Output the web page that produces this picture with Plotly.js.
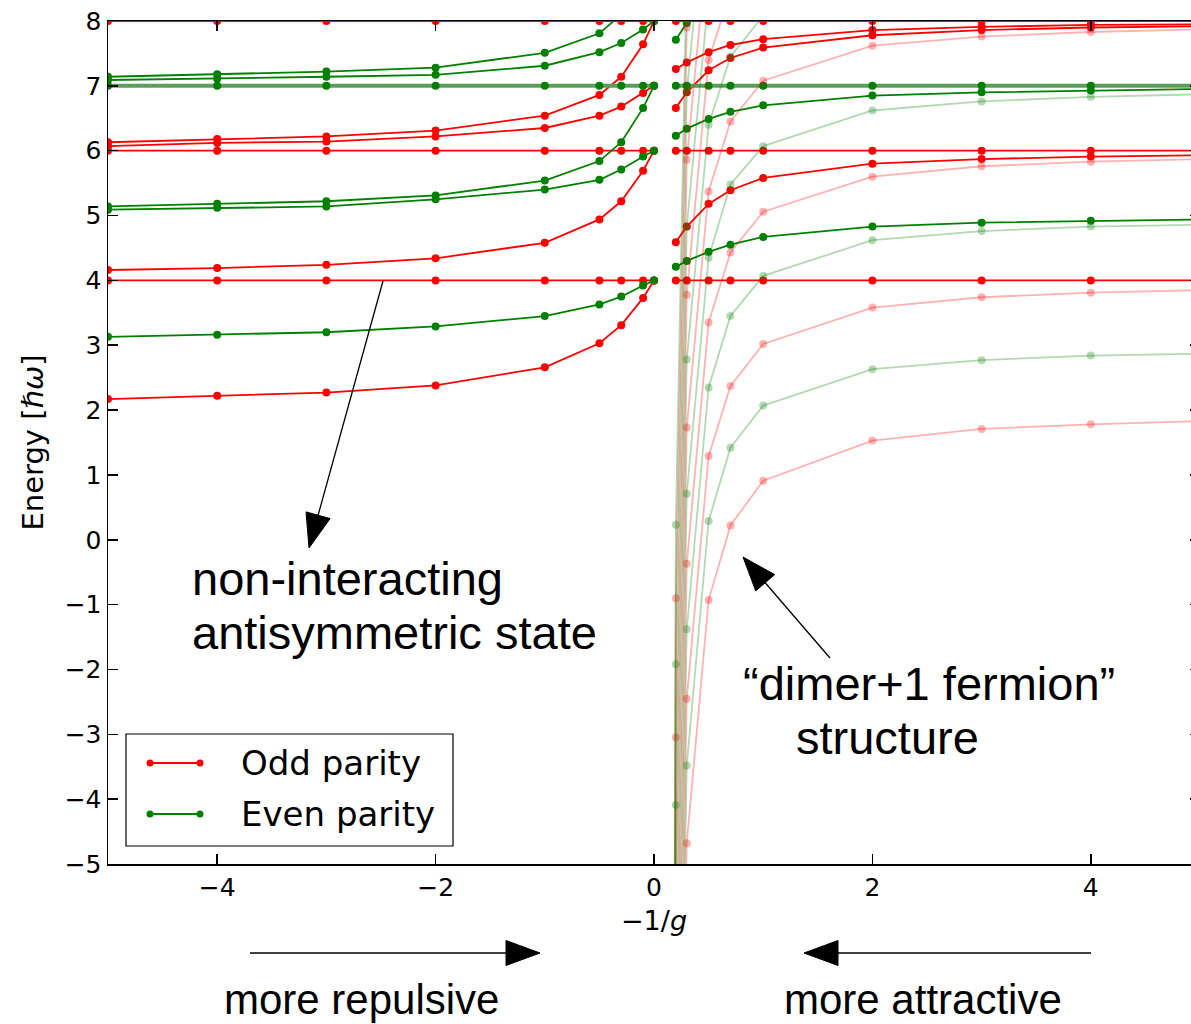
<!DOCTYPE html>
<html>
<head>
<meta charset="utf-8">
<script src="https://cdn.plot.ly/plotly-3.0.1.min.js"></script>
<style>
  html, body { margin: 0; padding: 0; overflow: hidden; background: #fff; }
  #chart { width: 1210px; height: 1024px; }
</style>
</head>
<body>
<div id="chart"></div>
<script>
// Sample points of -1/g on the repulsive (left) and attractive (right) side
const xRepulsive = [-5, -4, -3, -2, -1, -0.5, -0.3, -0.1, 0];
const xAttractive = [0.2, 0.3, 0.5, 0.7, 1, 2, 3, 4, 5];
const xDimer = [0.1, 0.2, 0.3, 0.5, 0.7, 1, 2, 3, 4, 5];

// Odd-parity levels, repulsive side
const oddRep1 = [2.17, 2.22, 2.27, 2.38, 2.66, 3.03, 3.31, 3.73, 4.0];
const oddRep2 = [4, 4, 4, 4, 4, 4, 4, 4, 4];
const oddRep3 = [4.16, 4.19, 4.24, 4.34, 4.58, 4.94, 5.22, 5.69, 6.0];
const oddRep4 = [6, 6, 6, 6, 6, 6, 6, 6, 6];
const oddRep5 = [6.07, 6.12, 6.14, 6.22, 6.35, 6.54, 6.68, 6.89, 7.0];
const oddRep6 = [6.13, 6.18, 6.22, 6.31, 6.54, 6.86, 7.14, 7.64, 8.0];
const oddRep7 = [8, 8, 8, 8, 8, 8, 8, 8, 8];

// Even-parity levels, repulsive side
const evenRep1 = [3.13, 3.16, 3.20, 3.29, 3.45, 3.63, 3.75, 3.92, 4.0];
const evenRep2 = [5.09, 5.12, 5.14, 5.25, 5.40, 5.55, 5.71, 5.91, 6.0];
const evenRep3 = [5.14, 5.18, 5.22, 5.31, 5.54, 5.84, 6.13, 6.66, 7.0];
const evenRep4 = [7, 7, 7, 7, 7, 7, 7, 7, 7];
const evenRep5 = [7.09, 7.11, 7.14, 7.17, 7.31, 7.52, 7.66, 7.87, 8.0];
const evenRep6 = [7.14, 7.18, 7.22, 7.28, 7.51, 7.81, 8.10, 8.60, 9.0];

// Odd-parity levels, attractive side
const oddAtt1 = [4, 4, 4, 4, 4, 4, 4, 4, 4];
const oddAtt2 = [4.59, 4.83, 5.18, 5.39, 5.58, 5.80, 5.87, 5.91, 5.93];
const oddAtt3 = [6, 6, 6, 6, 6, 6, 6, 6, 6];
const oddAtt4 = [6.66, 6.90, 7.24, 7.43, 7.59, 7.78, 7.86, 7.90, 7.92];
const oddAtt5 = [7.26, 7.36, 7.52, 7.63, 7.72, 7.86, 7.91, 7.94, 7.95];
const oddAtt6 = [8, 8, 8, 8, 8, 8, 8, 8, 8];

// Even-parity levels, attractive side
const evenAtt1 = [4.21, 4.30, 4.44, 4.55, 4.67, 4.83, 4.89, 4.92, 4.94];
const evenAtt2 = [6.23, 6.34, 6.49, 6.60, 6.70, 6.85, 6.90, 6.93, 6.95];
const evenAtt3 = [7, 7, 7, 7, 7, 7, 7, 7, 7];
const evenAtt4 = [7.71, 7.97, 8.30, 8.50, 8.65, 8.80, 8.87, 8.90, 8.92];

// "dimer + 1 fermion" branch (odd parity)
const oddDimer1 = [-61.6, -13.6, -4.68, -0.93, 0.22, 0.91, 1.53, 1.71, 1.78, 1.83];
const oddDimer2 = [-59.4, -11.4, -2.45, 1.29, 2.37, 3.02, 3.58, 3.74, 3.81, 3.85];
const oddDimer3 = [-57.3, -9.3, -0.37, 3.35, 4.43, 5.06, 5.60, 5.76, 5.83, 5.87];
const oddDimer4 = [-55.2, -7.2, 1.73, 5.37, 6.45, 7.08, 7.62, 7.76, 7.83, 7.87];
const oddDimer5 = [-53.1, -5.1, 3.78, 7.40, 8.45, 9.08, 9.62, 9.76, 9.83, 9.87];
const oddDimer6 = [-51.0, -3.05, 5.86, 9.40, 10.45];
const oddDimer7 = [-48.9, -0.90, 7.90, 11.40];

// "dimer + 1 fermion" branch (even parity)
const evenDimer1 = [-60.4, -12.4, -3.48, 0.29, 1.42, 2.07, 2.63, 2.77, 2.84, 2.87];
const evenDimer2 = [-58.3, -10.3, -1.38, 2.35, 3.45, 4.07, 4.62, 4.76, 4.83, 4.86];
const evenDimer3 = [-56.2, -8.2, 0.71, 4.35, 5.48, 6.07, 6.62, 6.76, 6.83, 6.87];
const evenDimer4 = [-54.1, -6.1, 2.78, 6.40, 7.45, 8.08, 8.62, 8.76, 8.83, 8.87];
const evenDimer5 = [-52.1, -4.09, 4.83, 8.40, 9.45];
const evenDimer6 = [-49.9, -1.92, 6.90, 10.40];
const evenDimer7 = [-47.8, 0.23, 8.90, 12.40];

// Axis ticks
const xTicks = [-4, -2, 0, 2, 4];
const yTicks = [-5, -4, -3, -2, -1, 0, 1, 2, 3, 4, 5, 6, 7, 8];

const RED = '#ff0000';
const GREEN = '#008000';
const RED_FADED = 'rgba(255,0,0,0.3)';
const GREEN_FADED = 'rgba(0,128,0,0.3)';

function level(x, y, color, lineColor, lineWidth) {
  return {
    type: 'scatter', mode: 'lines+markers',
    x: x.slice(0, y.length), y: y,
    line: { color: lineColor || color, width: lineWidth || 1.8 },
    marker: { color: color, size: 8, line: { width: 0 } },
    showlegend: false, hoverinfo: 'skip', cliponaxis: true
  };
}

const traces = [];
[oddRep1, oddRep2, oddRep3, oddRep4, oddRep5, oddRep6, oddRep7]
  .forEach(y => traces.push(level(xRepulsive, y, RED)));
[evenRep1, evenRep2, evenRep3, evenRep5, evenRep6]
  .forEach(y => traces.push(level(xRepulsive, y, GREEN)));
traces.push(level(xRepulsive, evenRep4, GREEN, '#5e9c5e', 4));

[oddAtt1, oddAtt2, oddAtt3, oddAtt4, oddAtt5, oddAtt6]
  .forEach(y => traces.push(level(xAttractive, y, RED)));
[evenAtt1, evenAtt2, evenAtt4]
  .forEach(y => traces.push(level(xAttractive, y, GREEN)));
traces.push(level(xAttractive, evenAtt3, GREEN, '#5e9c5e', 4));

[oddDimer1, oddDimer2, oddDimer3, oddDimer4, oddDimer5, oddDimer6, oddDimer7]
  .forEach(y => traces.push(level(xDimer, y, RED_FADED)));
[evenDimer1, evenDimer2, evenDimer3, evenDimer4, evenDimer5, evenDimer6, evenDimer7]
  .forEach(y => traces.push(level(xDimer, y, GREEN_FADED)));

// Pixel geometry of the plot area, used for the overlay arrows and the key box
const ML = 108, MT = 21, PW = 1092, PH = 843;
const fx = v => (v - ML) / PW;
const fy = v => (MT + PH - v) / PH;

function arrow(x0, y0, x1, y1) {
  const dx = x1 - x0, dy = y1 - y0, len = Math.hypot(dx, dy);
  const ux = dx / len, uy = dy / len;
  const hl = 34, hw = 12.5;
  const bx = x1 - ux * hl, by = y1 - uy * hl;
  const nx = -uy, ny = ux;
  return [
    { type: 'line', xref: 'paper', yref: 'paper', layer: 'above',
      x0: fx(x0), y0: fy(y0), x1: fx(bx), y1: fy(by),
      line: { color: 'black', width: 1.3 } },
    { type: 'path', xref: 'paper', yref: 'paper', layer: 'above',
      path: `M${fx(x1)},${fy(y1)} L${fx(bx + nx * hw)},${fy(by + ny * hw)} L${fx(bx - nx * hw)},${fy(by - ny * hw)} Z`,
      fillcolor: 'black', line: { color: 'black', width: 1 } }
  ];
}

function dot(cx, cy, color) {
  const r = 3.5;
  return { type: 'circle', xref: 'paper', yref: 'paper', layer: 'above',
    x0: fx(cx - r), x1: fx(cx + r), y0: fy(cy + r), y1: fy(cy - r),
    fillcolor: color, line: { width: 0 } };
}

const shapes = [
  ...arrow(383, 281, 309, 548),
  ...arrow(830, 658, 743, 557),
  ...arrow(250, 953, 540, 953),
  ...arrow(1091, 953, 804, 953),
  // key box
  { type: 'rect', xref: 'paper', yref: 'paper', layer: 'above',
    x0: fx(126), x1: fx(453), y0: fy(846), y1: fy(734),
    fillcolor: 'white', line: { color: 'black', width: 1.2 } },
  { type: 'line', xref: 'paper', yref: 'paper', layer: 'above',
    x0: fx(150), x1: fx(200), y0: fy(763), y1: fy(763), line: { color: RED, width: 1.8 } },
  dot(150, 763, RED), dot(200, 763, RED),
  { type: 'line', xref: 'paper', yref: 'paper', layer: 'above',
    x0: fx(150), x1: fx(200), y0: fy(814), y1: fy(814), line: { color: GREEN, width: 1.8 } },
  dot(150, 814, GREEN), dot(200, 814, GREEN)
];

function label(text, x, y, size, xanchor, family) {
  return { text: text, xref: 'paper', yref: 'paper', x: fx(x), y: fy(y),
    xanchor: xanchor || 'left', yanchor: 'middle', showarrow: false,
    font: { family: family || 'Liberation Sans, Arial, sans-serif', size: size, color: 'black' } };
}

const annotations = [
  label('non-interacting', 190, 578, 47),
  label('antisymmetric state', 190, 632, 47),
  label('\u201Cdimer+1 fermion\u201D', 929, 683, 47, 'center'),
  label('structure', 887, 737, 47, 'center'),
  label('more repulsive', 361, 1000, 42, 'center'),
  label('more attractive', 923, 1000, 42, 'center'),
  label('Odd parity', 239, 763, 34, 'left', 'DejaVu Sans'),
  label('Even parity', 239, 814, 34, 'left', 'DejaVu Sans')
];

const axisCommon = {
  showline: true, linecolor: 'black', linewidth: 1.5, mirror: 'ticks',
  ticks: 'inside', ticklen: 10, tickwidth: 1.5, tickcolor: 'black',
  showgrid: false, zeroline: false,
  tickfont: { family: 'DejaVu Sans', size: 25, color: 'black' }
};

const layout = {
  width: 1210, height: 1024,
  margin: { l: ML, r: 1210 - ML - PW, t: MT, b: 1024 - MT - PH },
  paper_bgcolor: 'white', plot_bgcolor: 'white',
  showlegend: false,
  xaxis: Object.assign({}, axisCommon, {
    range: [-5, 5], tickvals: xTicks,
    title: { text: '\u22121/<i>g</i>', font: { family: 'DejaVu Sans', size: 27, color: 'black' }, standoff: 10 }
  }),
  yaxis: Object.assign({}, axisCommon, {
    range: [-5, 8], tickvals: yTicks,
    title: { text: 'Energy [<i>\u210F\u03C9</i>]', font: { family: 'DejaVu Sans', size: 29, color: 'black' }, standoff: 12 }
  }),
  shapes: shapes,
  annotations: annotations
};

Plotly.newPlot('chart', traces, layout, { displayModeBar: false, staticPlot: true });
</script>
</body>
</html>
